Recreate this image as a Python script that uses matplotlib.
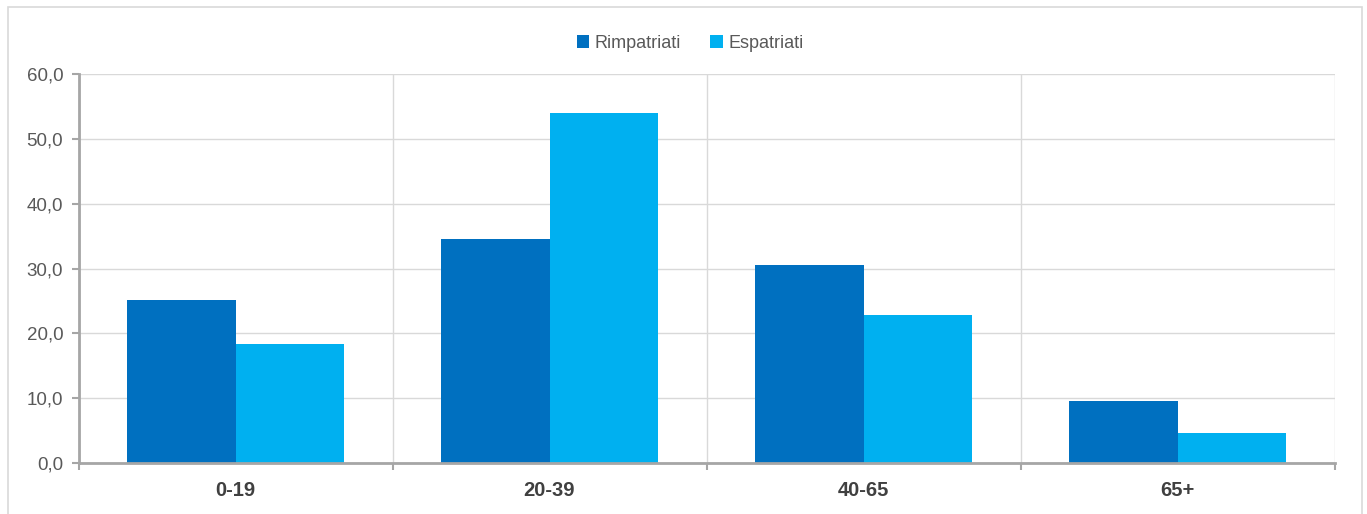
import matplotlib.pyplot as plt
import numpy as np
from matplotlib.patches import Rectangle
from matplotlib.ticker import FuncFormatter

plt.rcParams['font.family'] = ['Liberation Sans', 'DejaVu Sans']

categories = ['0-19', '20-39', '40-65', '65+']
rimpatriati = [25.2, 34.6, 30.6, 9.5]
espatriati = [18.4, 54.0, 22.8, 4.7]
series_names = ['Rimpatriati', 'Espatriati']
colors = ['#0070C0', '#00B0F0']

fig = plt.figure(figsize=(13.67, 5.14), dpi=100)
ax = fig.add_axes([78.5/1367, 1 - 463/514, (1334.5-78.5)/1367, (463-74)/514])

x = np.arange(len(categories))
w = 0.344
ax.bar(x - w/2, rimpatriati, w, color=colors[0], label=series_names[0], zorder=3)
ax.bar(x + w/2, espatriati, w, color=colors[1], label=series_names[1], zorder=3)

ax.set_xlim(-0.5, len(categories) - 0.5)
ax.set_ylim(0, 60)
ax.set_yticks(np.arange(0, 61, 10))
ax.yaxis.set_major_formatter(FuncFormatter(lambda v, p: f'{v:.1f}'.replace('.', ',')))

ax.set_xticks(x)
ax.set_xticklabels(categories, fontweight='bold', fontsize=14.5, color='#404040')
ax.set_xticks(np.arange(-0.5, len(categories)), minor=True)
ax.tick_params(axis='x', which='major', length=0, pad=13)
ax.tick_params(axis='x', which='minor', length=5, width=1.5, color='#a6a6a6', direction='out')
ax.tick_params(axis='y', length=5, width=1.5, color='#a6a6a6', labelsize=13.5, labelcolor='#595959', pad=6)

ax.grid(axis='y', which='major', color='#d9d9d9', lw=1, zorder=0)
ax.grid(axis='x', which='minor', color='#d9d9d9', lw=1, zorder=0)
ax.grid(axis='x', which='major', visible=False)

for s in ['top', 'right']:
    ax.spines[s].set_visible(False)
for s in ['left', 'bottom']:
    ax.spines[s].set_color('#a6a6a6')
    ax.spines[s].set_linewidth(2)
    ax.spines[s].set_zorder(4)

fig.legend(loc='center', bbox_to_anchor=(690/1367, 1 - 43/514), ncol=2, frameon=False,
           fontsize=13, handlelength=0.7, handleheight=0.7, handletextpad=0.3,
           columnspacing=1.6, labelcolor='#595959')

fig.patches.append(Rectangle((8/1367, -0.05), (1362-8)/1367, 1.05 - 7/514,
                             transform=fig.transFigure, fill=False,
                             edgecolor='#d9d9d9', lw=1.2))

fig.savefig('out.png', dpi=100)
